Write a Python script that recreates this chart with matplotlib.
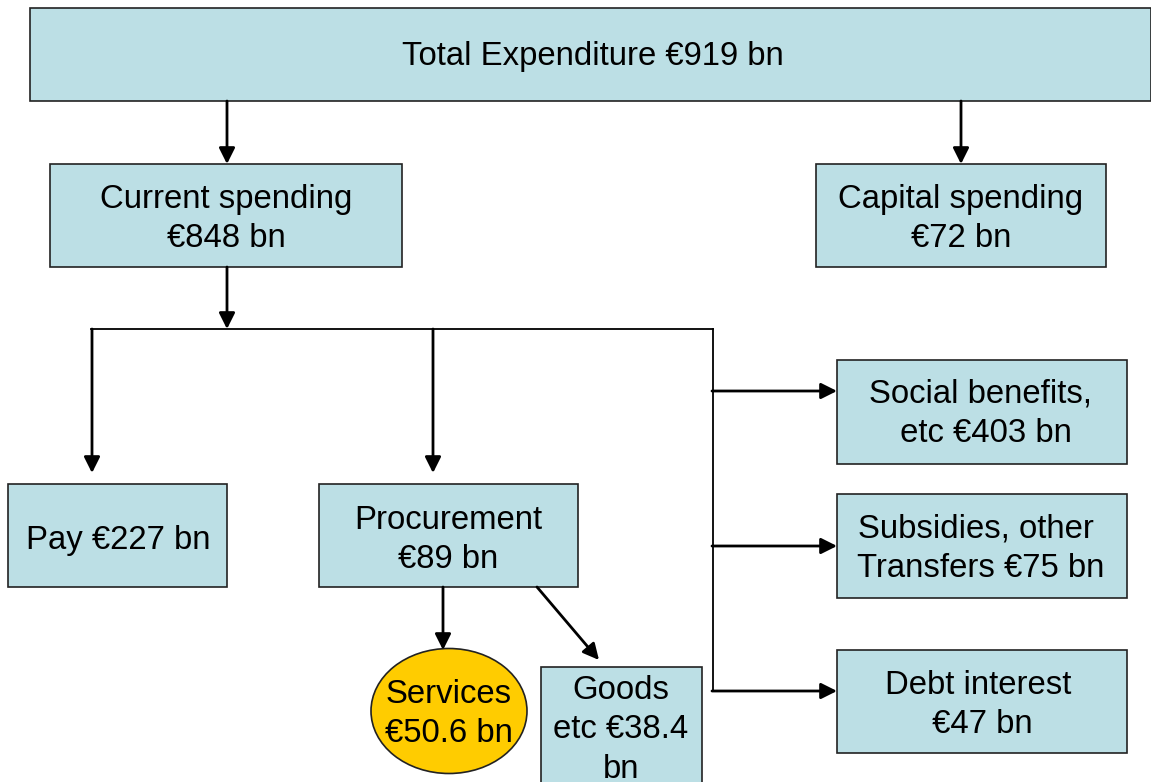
import matplotlib
matplotlib.use("Agg")
from matplotlib import pyplot as plt
from matplotlib.patches import Rectangle, Ellipse

# values in EUR bn
total = 919
current = 848
capital = 72
pay = 227
procurement = 89
services = 50.6
goods = 38.4
social = 403
subsidies = 75
debt = 47

labels = {
    "total": "Total Expenditure €%d bn" % total,
    "current": "Current spending\n€%d bn" % current,
    "capital": "Capital spending\n€%d bn" % capital,
    "pay": "Pay €%d bn" % pay,
    "procurement": "Procurement\n€%d bn" % procurement,
    "services": "Services\n€%.1f bn" % services,
    "goods": "Goods\netc €%.1f\nbn" % goods,
    "social": "Social benefits,\n etc €%d bn" % social,
    "subsidies": "Subsidies, other \nTransfers €%d bn" % subsidies,
    "debt": "Debt interest\n €%d bn" % debt,
}

# layout in pixel units: (x0, y0, x1, y1)
boxes = {
    "total": (30, 8, 1151, 101),
    "current": (50, 164, 402, 267),
    "capital": (816, 164, 1106, 267),
    "pay": (8, 484, 227, 587),
    "procurement": (319, 484, 578, 587),
    "goods": (541, 667, 702, 800),
    "social": (837, 360, 1127, 464),
    "subsidies": (837, 494, 1127, 598),
    "debt": (837, 650, 1127, 753),
}
text_pos = {
    "total": (593, 57),
    "current": (226, 219),
    "capital": (961, 219),
    "pay": (118, 540),
    "procurement": (448, 540),
    "services": (449, 714),
    "goods": (621, 730),
    "social": (981, 414),
    "subsidies": (981, 549),
    "debt": (978, 705),
}

plt.rcParams['font.family'] = ['Liberation Sans', 'DejaVu Sans']

fig = plt.figure(figsize=(11.51, 7.82), dpi=100)
ax = fig.add_axes([0, 0, 1, 1])
ax.set_xlim(0, 1151)
ax.set_ylim(782, 0)
ax.axis('off')

box_fill = '#bcdfe5'
for k, (x0, y0, x1, y1) in boxes.items():
    ax.add_patch(Rectangle((x0, y0), x1 - x0, y1 - y0, facecolor=box_fill,
                           edgecolor='#222222', lw=1.2, zorder=2))

ax.add_patch(Ellipse((449, 711), 156, 125, facecolor='#ffcc00',
                     edgecolor='#222222', lw=1.2, zorder=2))

for k, (x, y) in text_pos.items():
    ax.text(x, y, labels[k], ha='center', va='center', fontsize=23.7,
            linespacing=1.36, zorder=3)

def arrow(x0, y0, x1, y1):
    ax.annotate('', xy=(x1, y1), xytext=(x0, y0),
                arrowprops=dict(arrowstyle='-|>', color='black', lw=2,
                                mutation_scale=24, shrinkA=0, shrinkB=0),
                zorder=4)

arrow(227, 101, 227, 164)
arrow(961, 101, 961, 164)
arrow(227, 267, 227, 329)

# bracket lines
ax.plot([91, 713], [329, 329], color='black', lw=1.3, zorder=1)
ax.plot([713, 713], [329, 691], color='black', lw=1.3, zorder=1)

arrow(92, 329, 92, 473)
arrow(433, 329, 433, 473)
arrow(712, 391, 837, 391)
arrow(712, 546, 837, 546)
arrow(712, 691, 837, 691)
arrow(443, 587, 443, 650)
arrow(537, 587, 599, 660)

fig.savefig('out.png', dpi=100)
